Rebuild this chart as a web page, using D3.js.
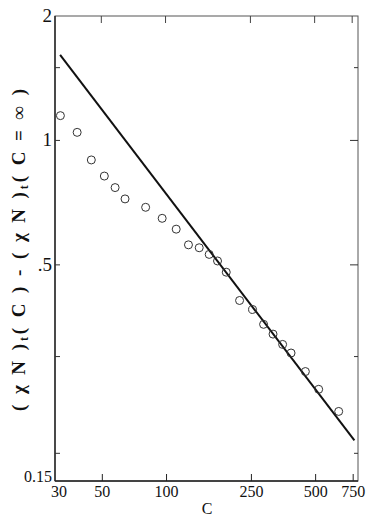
<!DOCTYPE html>
<html>
<head>
<meta charset="utf-8">
<script src="https://cdn.jsdelivr.net/npm/d3@7"></script>
<style>
  body { margin: 0; background: #fff; }
  svg { display: block; }
</style>
</head>
<body>
<svg id="chart" width="370" height="519" font-family="Liberation Serif"></svg>
<script>
const cValues = [31.8, 38.1, 44.4, 51.1, 57.4, 63.9, 79.8, 95.4, 111, 126.7, 142.3, 158.5,
  173.4, 190.5, 220, 253.2, 285.1, 315.7, 350.1, 383.5, 447.6, 516.8, 641.4]
const chiValues = [1.148, 1.046, 0.897, 0.820, 0.769, 0.722, 0.689, 0.648, 0.610, 0.559, 0.550, 0.530,
  0.511, 0.480, 0.410, 0.390, 0.359, 0.340, 0.321, 0.306, 0.276, 0.250, 0.221]

// power-law fit line end points
const fitC = [31.7, 760]
const fitChi = [1.61, 0.188]

const xTicks = [30, 50, 100, 250, 500, 750]
const yLabelTicks = [2, 1, 0.5, 0.15]
const yLabelText = ['2', '1', '.5', '0.15']
const yMinorTicks = [1.5, 0.3, 0.175]

const svg = d3.select('#chart')
const margin = { top: 16, right: 12, bottom: 38, left: 55 }
const width = 370
const height = 519
const serif = 'Liberation Serif'

const x = d3.scaleLog()
    .domain([30, 790])
    .range([margin.left, width - margin.right])

const y = d3.scaleLog()
    .domain([0.15, 2])
    .range([height - margin.bottom, margin.top])

const x0 = x.range()[0], x1 = x.range()[1]
const y0 = y.range()[0], y1 = y.range()[1]

// frame
svg.append('rect')
    .attr('x', x0).attr('y', y1)
    .attr('width', x1 - x0).attr('height', y0 - y1)
    .attr('fill', 'none')
    .attr('stroke', '#555')
    .attr('stroke-width', 1)

svg.append('line')
    .attr('x1', x0).attr('x2', x0).attr('y1', y1).attr('y2', y0)
    .attr('stroke', '#222').attr('stroke-width', 1.4)
svg.append('line')
    .attr('x1', x0).attr('x2', x1).attr('y1', y0).attr('y2', y0)
    .attr('stroke', '#222').attr('stroke-width', 1.4)

// x ticks, inward on bottom and top
const xt = xTicks.slice(1)
svg.append('g')
    .selectAll('line')
    .data(xt)
    .join('line')
    .attr('x1', d => x(d)).attr('x2', d => x(d))
    .attr('y1', y0).attr('y2', y0 - 7)
    .attr('stroke', '#222').attr('stroke-width', 1)

svg.append('g')
    .selectAll('line')
    .data(xt)
    .join('line')
    .attr('x1', d => x(d) - 1).attr('x2', d => x(d) - 1)
    .attr('y1', y1).attr('y2', y1 + 7)
    .attr('stroke', '#444').attr('stroke-width', 1)

// y ticks, inward on left and right
const yt = [1, 0.5].concat(yMinorTicks)
svg.append('g')
    .selectAll('line')
    .data(yt)
    .join('line')
    .attr('x1', x0).attr('x2', x0 + 5)
    .attr('y1', d => y(d)).attr('y2', d => y(d))
    .attr('stroke', '#333').attr('stroke-width', 1)

svg.append('g')
    .selectAll('line')
    .data(yt)
    .join('line')
    .attr('x1', x1).attr('x2', d => x1 - (d === 1 || d === 0.5 ? 8 : 4))
    .attr('y1', d => y(d)).attr('y2', d => y(d))
    .attr('stroke', '#333').attr('stroke-width', 1)

// tick labels
svg.append('g')
    .selectAll('text')
    .data(xTicks)
    .join('text')
    .attr('x', d => d === 30 ? x(d) + 4 : x(d))
    .attr('y', y0 + 16)
    .attr('text-anchor', 'middle')
    .attr('font-family', serif)
    .attr('font-size', 16)
    .attr('fill', '#111')
    .text(d => d)

svg.append('g')
    .selectAll('text')
    .data(yLabelTicks)
    .join('text')
    .attr('x', x0 - 3)
    .attr('y', (d, i) => i === 3 ? y(d) + 1 : y(d) + 6)
    .attr('text-anchor', 'end')
    .attr('font-family', serif)
    .attr('font-size', d => d === 0.15 ? 16 : 19)
    .attr('fill', '#111')
    .text((d, i) => yLabelText[i])

// axis titles
svg.append('text')
    .attr('x', 207)
    .attr('y', 514)
    .attr('text-anchor', 'middle')
    .attr('font-family', serif)
    .attr('font-size', 16)
    .attr('fill', '#111')
    .text('C')

const yTitle = svg.append('text')
    .attr('transform', 'translate(25,250) rotate(-90)')
    .attr('text-anchor', 'middle')
    .attr('font-family', serif)
    .attr('font-size', 19)
    .attr('font-weight', 'bold')
    .attr('textLength', 322)
    .attr('lengthAdjust', 'spacing')
    .attr('fill', '#111')

const parts = [['( χ N )', 0], ['t', 1], ['( C )  -  ( χ N )', 0], ['t', 1], ['( C = ∞ )', 0]]
parts.forEach(p => {
    yTitle.append('tspan')
        .attr('baseline-shift', p[1] ? '-25%' : null)
        .attr('font-size', p[1] ? 12 : null)
        .text(p[0])
})

// fit line
svg.append('line')
    .attr('x1', x(fitC[0])).attr('y1', y(fitChi[0]))
    .attr('x2', x(fitC[1])).attr('y2', y(fitChi[1]))
    .attr('stroke', '#111')
    .attr('stroke-width', 2)

// data circles
svg.append('g')
    .selectAll('circle')
    .data(cValues)
    .join('circle')
    .attr('cx', d => x(d))
    .attr('cy', (d, i) => y(chiValues[i]))
    .attr('r', 4)
    .attr('fill', 'none')
    .attr('stroke', '#333')
    .attr('stroke-width', 1)
</script>
</body>
</html>
